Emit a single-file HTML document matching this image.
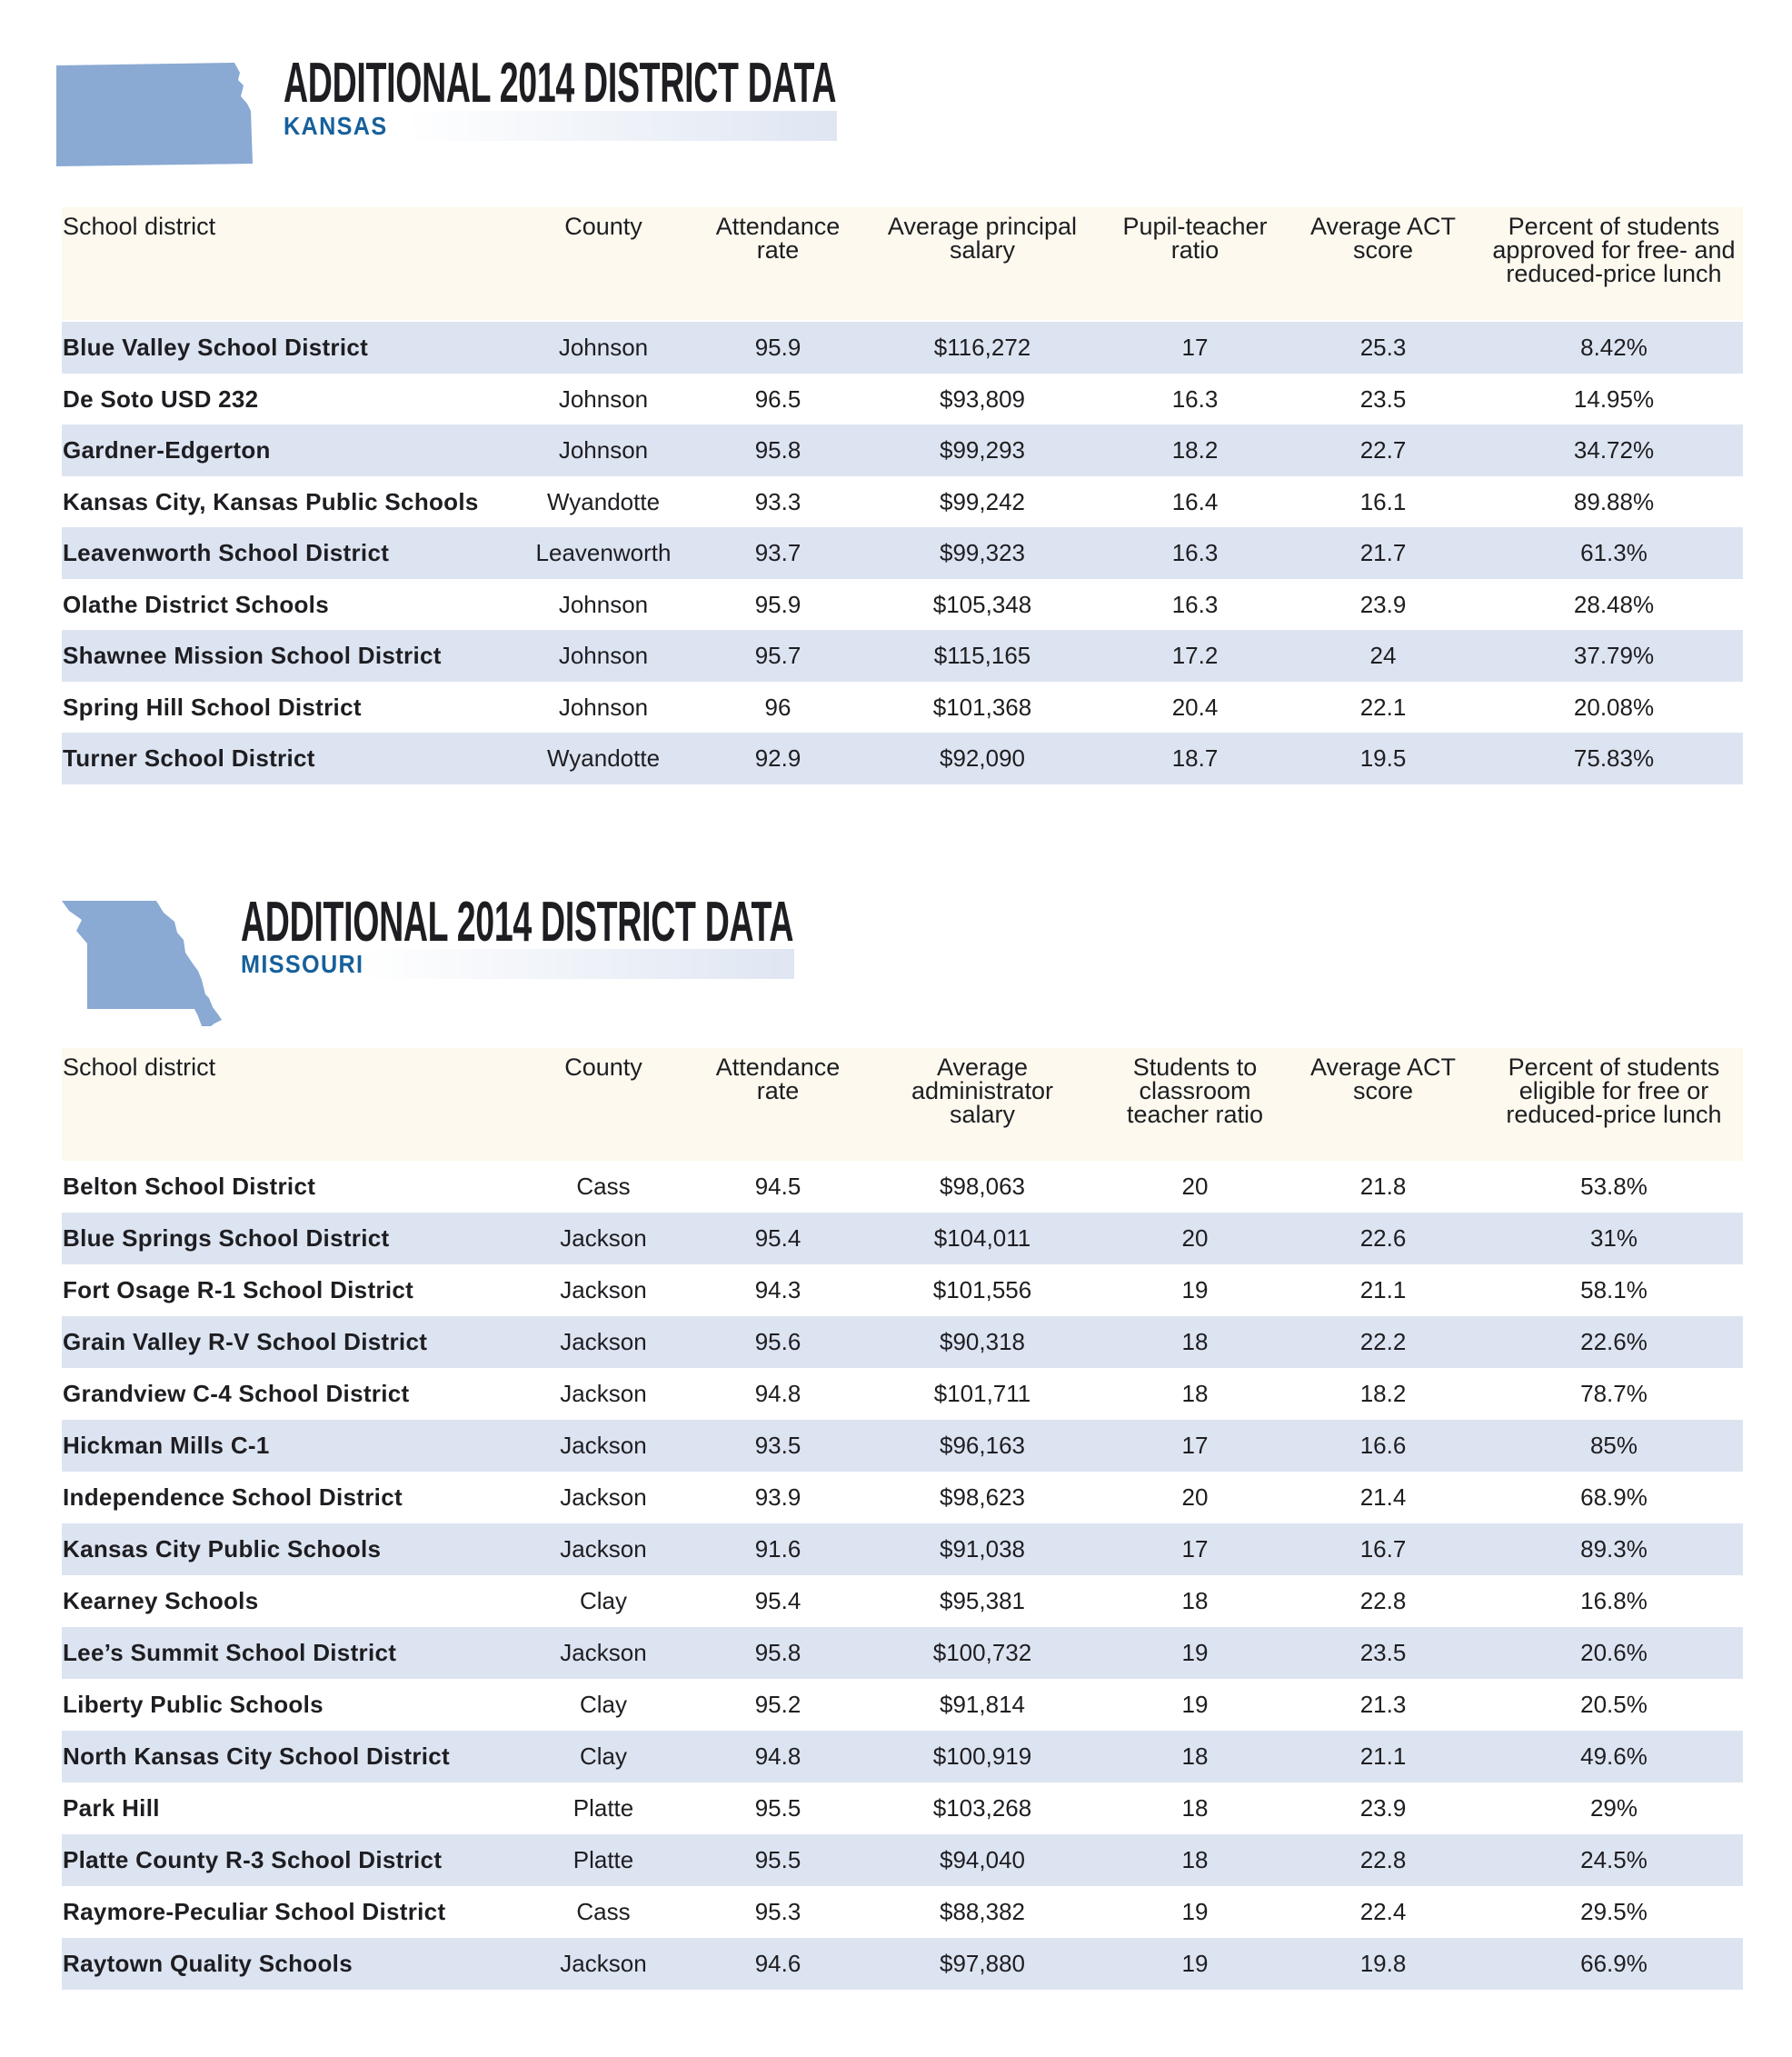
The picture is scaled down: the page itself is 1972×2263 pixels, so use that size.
<!DOCTYPE html>
<html><head><meta charset="utf-8"><style>
body{margin:0;width:1972px;height:2263px;background:#fff;position:relative;overflow:hidden;font-family:"Liberation Sans Narrow","Liberation Sans",sans-serif;color:#1e1e22}
.a{position:absolute}
.title{position:absolute;font-weight:bold;font-size:62px;line-height:60px;white-space:nowrap;transform:scaleX(0.605);transform-origin:left top;color:#1e1e22;letter-spacing:-0.5px}
.bar{position:absolute;height:33px;width:609px;background:linear-gradient(90deg,#fff 0%,#fff 22%,#dfe6f2 100%)}
.sub{position:absolute;font-weight:bold;font-size:28px;color:#17609b;letter-spacing:1.5px;font-family:"Liberation Sans",sans-serif;transform:scaleX(0.9);transform-origin:left top}
.hd{position:absolute;left:68px;width:1850px;height:124px;background:#fdf9ee}
.hd span{position:absolute;top:8px;line-height:26px;font-size:27px;width:280px;margin-left:-140px;text-align:center}
.hd span:nth-child(1){left:1px;margin-left:0;text-align:left}
.r{position:absolute;left:68px;width:1850px;height:57px}
.s{background:#dde4f1}
.r span{position:absolute;top:0;line-height:57px;font-size:26px;width:260px;margin-left:-130px;text-align:center;white-space:nowrap}
.r span:nth-child(1){left:1px;margin-left:0;text-align:left;font-weight:bold;width:520px;letter-spacing:0.3px}
span:nth-child(2){left:596px}span:nth-child(3){left:788px}span:nth-child(4){left:1013px}
span:nth-child(5){left:1247px}span:nth-child(6){left:1454px}span:nth-child(7){left:1708px}
</style></head><body>
<svg class="a" style="left:0;top:0" width="400" height="1200">
<polygon fill="#8aa9d3" points="62,72 258,69 264,80 262,88 268,94 265,106 272,114 276,122 278,180 62,183"/>
<polygon fill="#8aa9d3" points="68,991 172,991 180,1004 192,1014 195,1026 202,1034 204,1048 212,1060 218,1068 222,1078 226,1094 230,1098 234,1108 240,1116 244,1122 236,1126 232,1129 222,1129 218,1118 214,1110 96,1110 96,1038 84,1024 90,1012 76,1002"/>
</svg>
<div class="title" style="left:312px;top:62px">ADDITIONAL 2014 DISTRICT DATA</div>
<div class="bar" style="left:312px;top:122px"></div>
<div class="sub" style="left:312px;top:123px">KANSAS</div>
<div class="hd" style="top:228px"><span>School district</span><span>County</span><span>Attendance<br>rate</span><span>Average principal<br>salary</span><span>Pupil-teacher<br>ratio</span><span>Average ACT<br>score</span><span>Percent of students<br>approved for free- and<br>reduced-price lunch</span></div>
<div class="r s" style="top:354px"><span>Blue Valley School District</span><span>Johnson</span><span>95.9</span><span>$116,272</span><span>17</span><span>25.3</span><span>8.42%</span></div>
<div class="r" style="top:411px"><span>De Soto USD 232</span><span>Johnson</span><span>96.5</span><span>$93,809</span><span>16.3</span><span>23.5</span><span>14.95%</span></div>
<div class="r s" style="top:467px"><span>Gardner-Edgerton</span><span>Johnson</span><span>95.8</span><span>$99,293</span><span>18.2</span><span>22.7</span><span>34.72%</span></div>
<div class="r" style="top:524px"><span>Kansas City, Kansas Public Schools</span><span>Wyandotte</span><span>93.3</span><span>$99,242</span><span>16.4</span><span>16.1</span><span>89.88%</span></div>
<div class="r s" style="top:580px"><span>Leavenworth School District</span><span>Leavenworth</span><span>93.7</span><span>$99,323</span><span>16.3</span><span>21.7</span><span>61.3%</span></div>
<div class="r" style="top:637px"><span>Olathe District Schools</span><span>Johnson</span><span>95.9</span><span>$105,348</span><span>16.3</span><span>23.9</span><span>28.48%</span></div>
<div class="r s" style="top:693px"><span>Shawnee Mission School District</span><span>Johnson</span><span>95.7</span><span>$115,165</span><span>17.2</span><span>24</span><span>37.79%</span></div>
<div class="r" style="top:750px"><span>Spring Hill School District</span><span>Johnson</span><span>96</span><span>$101,368</span><span>20.4</span><span>22.1</span><span>20.08%</span></div>
<div class="r s" style="top:806px"><span>Turner School District</span><span>Wyandotte</span><span>92.9</span><span>$92,090</span><span>18.7</span><span>19.5</span><span>75.83%</span></div>

<div class="title" style="left:265px;top:985px">ADDITIONAL 2014 DISTRICT DATA</div>
<div class="bar" style="left:265px;top:1044px"></div>
<div class="sub" style="left:265px;top:1045px">MISSOURI</div>
<div class="hd" style="top:1153px"><span>School district</span><span>County</span><span>Attendance<br>rate</span><span>Average<br>administrator<br>salary</span><span>Students to<br>classroom<br>teacher ratio</span><span>Average ACT<br>score</span><span>Percent of students<br>eligible for free or<br>reduced-price lunch</span></div>
<div class="r" style="top:1277px"><span>Belton School District</span><span>Cass</span><span>94.5</span><span>$98,063</span><span>20</span><span>21.8</span><span>53.8%</span></div>
<div class="r s" style="top:1334px"><span>Blue Springs School District</span><span>Jackson</span><span>95.4</span><span>$104,011</span><span>20</span><span>22.6</span><span>31%</span></div>
<div class="r" style="top:1391px"><span>Fort Osage R-1 School District</span><span>Jackson</span><span>94.3</span><span>$101,556</span><span>19</span><span>21.1</span><span>58.1%</span></div>
<div class="r s" style="top:1448px"><span>Grain Valley R-V School District</span><span>Jackson</span><span>95.6</span><span>$90,318</span><span>18</span><span>22.2</span><span>22.6%</span></div>
<div class="r" style="top:1505px"><span>Grandview C-4 School District</span><span>Jackson</span><span>94.8</span><span>$101,711</span><span>18</span><span>18.2</span><span>78.7%</span></div>
<div class="r s" style="top:1562px"><span>Hickman Mills C-1</span><span>Jackson</span><span>93.5</span><span>$96,163</span><span>17</span><span>16.6</span><span>85%</span></div>
<div class="r" style="top:1619px"><span>Independence School District</span><span>Jackson</span><span>93.9</span><span>$98,623</span><span>20</span><span>21.4</span><span>68.9%</span></div>
<div class="r s" style="top:1676px"><span>Kansas City Public Schools</span><span>Jackson</span><span>91.6</span><span>$91,038</span><span>17</span><span>16.7</span><span>89.3%</span></div>
<div class="r" style="top:1733px"><span>Kearney Schools</span><span>Clay</span><span>95.4</span><span>$95,381</span><span>18</span><span>22.8</span><span>16.8%</span></div>
<div class="r s" style="top:1790px"><span>Lee’s Summit School District</span><span>Jackson</span><span>95.8</span><span>$100,732</span><span>19</span><span>23.5</span><span>20.6%</span></div>
<div class="r" style="top:1847px"><span>Liberty Public Schools</span><span>Clay</span><span>95.2</span><span>$91,814</span><span>19</span><span>21.3</span><span>20.5%</span></div>
<div class="r s" style="top:1904px"><span>North Kansas City School District</span><span>Clay</span><span>94.8</span><span>$100,919</span><span>18</span><span>21.1</span><span>49.6%</span></div>
<div class="r" style="top:1961px"><span>Park Hill</span><span>Platte</span><span>95.5</span><span>$103,268</span><span>18</span><span>23.9</span><span>29%</span></div>
<div class="r s" style="top:2018px"><span>Platte County R-3 School District</span><span>Platte</span><span>95.5</span><span>$94,040</span><span>18</span><span>22.8</span><span>24.5%</span></div>
<div class="r" style="top:2075px"><span>Raymore-Peculiar School District</span><span>Cass</span><span>95.3</span><span>$88,382</span><span>19</span><span>22.4</span><span>29.5%</span></div>
<div class="r s" style="top:2132px"><span>Raytown Quality Schools</span><span>Jackson</span><span>94.6</span><span>$97,880</span><span>19</span><span>19.8</span><span>66.9%</span></div>
</body></html>
